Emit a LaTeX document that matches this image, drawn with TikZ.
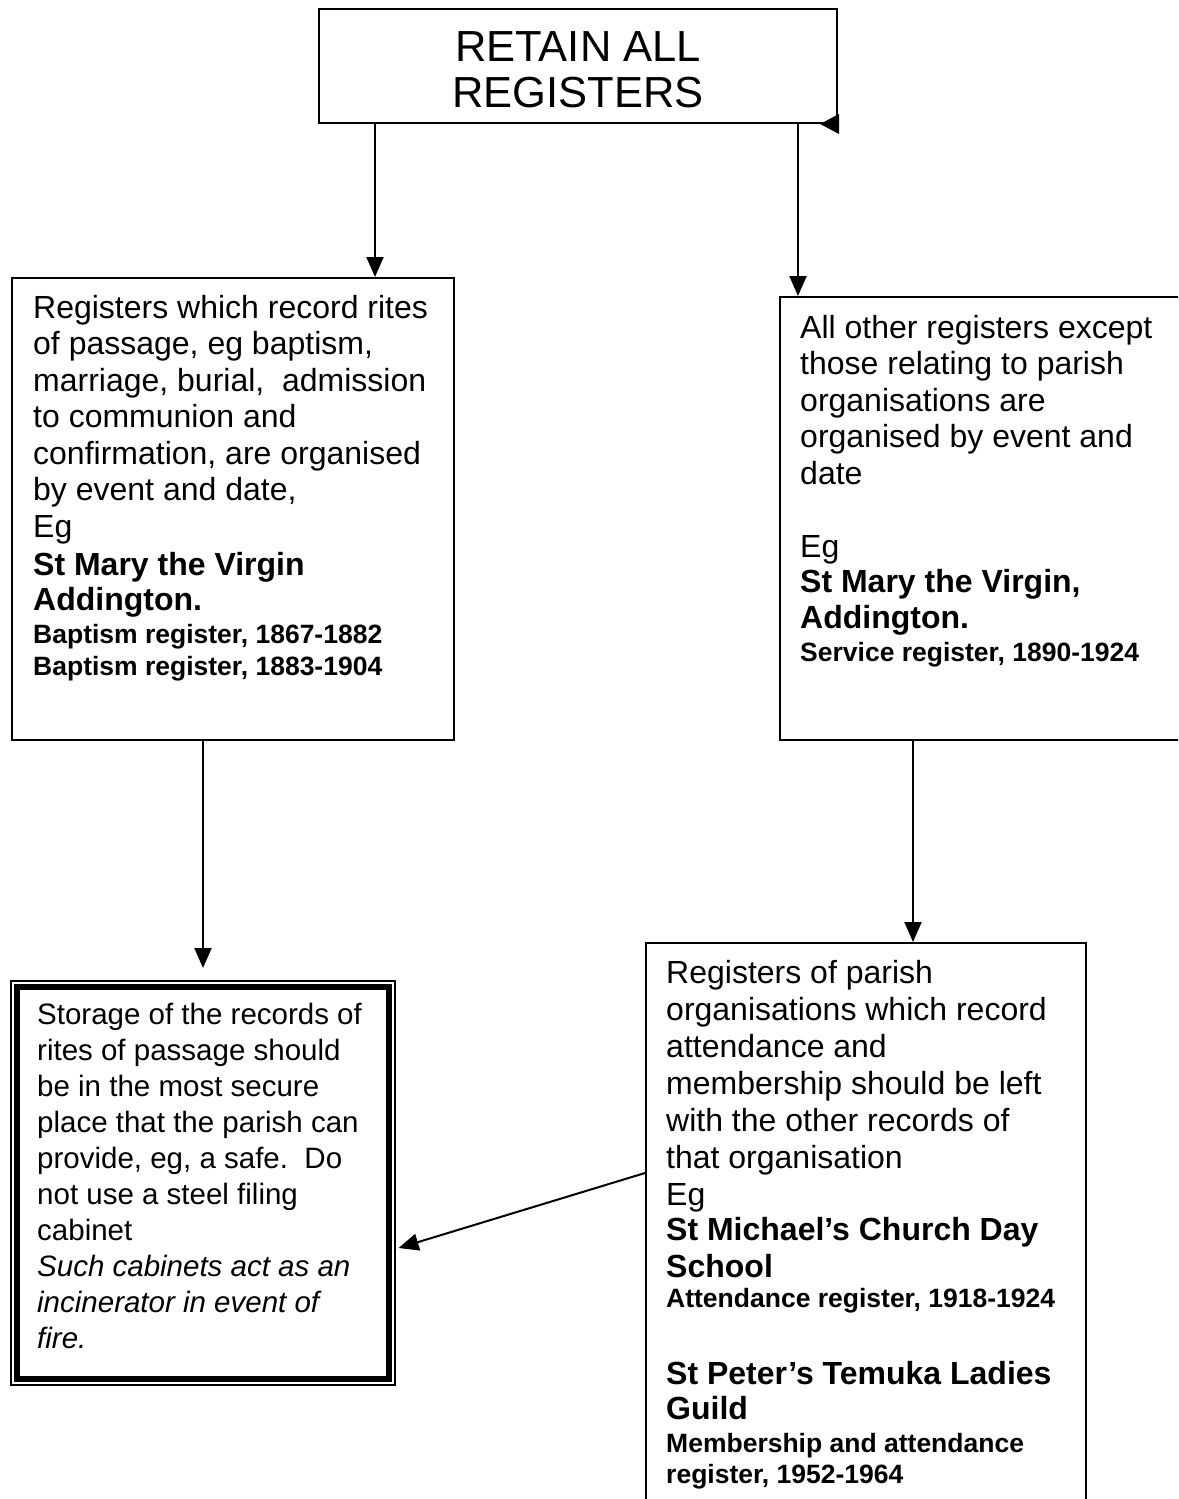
\documentclass[tikz,border=0pt]{standalone}
\usepackage{fontspec}
\setmainfont{Liberation Sans}
\usetikzlibrary{arrows.meta}
\newcommand{\smb}[1]{{\fontsize{26.5}{30}\selectfont\bfseries #1}}
\begin{document}
\begin{tikzpicture}[x=1pt,y=-1pt,
  boxline/.style={draw=black,line width=2pt,inner sep=0pt,anchor=north west},
  conn/.style={line width=2pt,-{Triangle[length=20pt,width=17pt]}},
  body/.style={anchor=north west,inner sep=0pt,align=left,font=\fontsize{32}{36.5}\selectfont},
]
\clip (0,0) rectangle (1178,1499);
\fill[white] (0,0) rectangle (1178,1499);

% boxes
\node[boxline,minimum width=518pt,minimum height=114pt] (top) at (318,8) {};
\node[boxline,minimum width=442pt,minimum height=462pt] (left) at (11,277) {};
\node[boxline,minimum width=440pt,minimum height=443pt] (right) at (779,296) {};
\node[boxline,minimum width=440pt,minimum height=620pt] (br) at (645,942) {};
\node[draw=black,line width=1.6pt,inner sep=0pt,anchor=north west,minimum width=384pt,minimum height=404pt] (store) at (10,980) {};
\draw[line width=6pt] ([xshift=7pt,yshift=-7pt]store.north west) rectangle ([xshift=-7pt,yshift=7pt]store.south east);

% texts
\node[inner sep=0pt,anchor=north,align=center,font=\fontsize{43.5}{46}\selectfont] (ttop) at (578,31) {RETAIN ALL\\REGISTERS};

\node[body] (tleft) at (33,295) {Registers which record rites\\
of passage, eg baptism,\\
marriage, burial,\ \ admission\\
to communion and\\
confirmation, are organised\\
by event and date,\\
Eg\\[1.5pt]
\textbf{St Mary the Virgin}\\[-1.5pt]
\textbf{Addington.}\\[-3.5pt]
\smb{Baptism register, 1867-1882}\\[-4.5pt]
\smb{Baptism register, 1883-1904}};

\node[body] (tright) at (800,315) {All other registers except\\
those relating to parish\\
organisations are\\
organised by event and\\
date\\
\\
Eg\\[-1.5pt]
\textbf{St Mary the Virgin,}\\[-0.5pt]
\textbf{Addington.}\\[-3.5pt]
\smb{Service register, 1890-1924}};

\node[body,font=\fontsize{29.5}{36}\selectfont] (tstore) at (37,1002.5) {Storage of the records of\\
rites of passage should\\
be in the most secure\\
place that the parish can\\
provide, eg, a safe.\ \ Do\\
not use a steel filing\\
cabinet\\
\textit{Such cabinets act as an}\\
\textit{incinerator in event of}\\
\textit{fire.}};

\node[body,font=\fontsize{32}{37}\selectfont] (tbr) at (666,960) {Registers of parish\\
organisations which record\\
attendance and\\
membership should be left\\
with the other records of\\
that organisation\\
Eg\\[-2pt]
\textbf{St Michael’s Church Day}\\
\textbf{School}\\[-7pt]
\smb{Attendance register, 1918-1924}\\
\\[3pt]
\textbf{St Peter’s Temuka Ladies}\\[-2pt]
\textbf{Guild}\\[-4pt]
\smb{Membership and attendance}\\[-6pt]
\smb{register, 1952-1964}};

% connectors
\coordinate (xa) at (375,0);
\coordinate (xb) at (798,0);
\coordinate (xc) at (203,0);
\coordinate (xd) at (913,0);
\draw[conn] (top.south -| xa) -- (left.north -| xa);
\draw[conn] (top.south -| xb) -- (right.north -| xb);
\draw[conn] (left.south -| xc) -- ([yshift=12pt]store.north -| xc);
\draw[conn] (right.south -| xd) -- (br.north -| xd);
\draw[conn] ([yshift=-231pt]br.north west) -- ([xshift=3pt,yshift=-268pt]store.north east);
\fill ([xshift=-18pt]top.south east) -- ([xshift=1pt,yshift=10pt]top.south east) -- ([xshift=1pt,yshift=-10pt]top.south east) -- cycle;
\end{tikzpicture}
\end{document}
